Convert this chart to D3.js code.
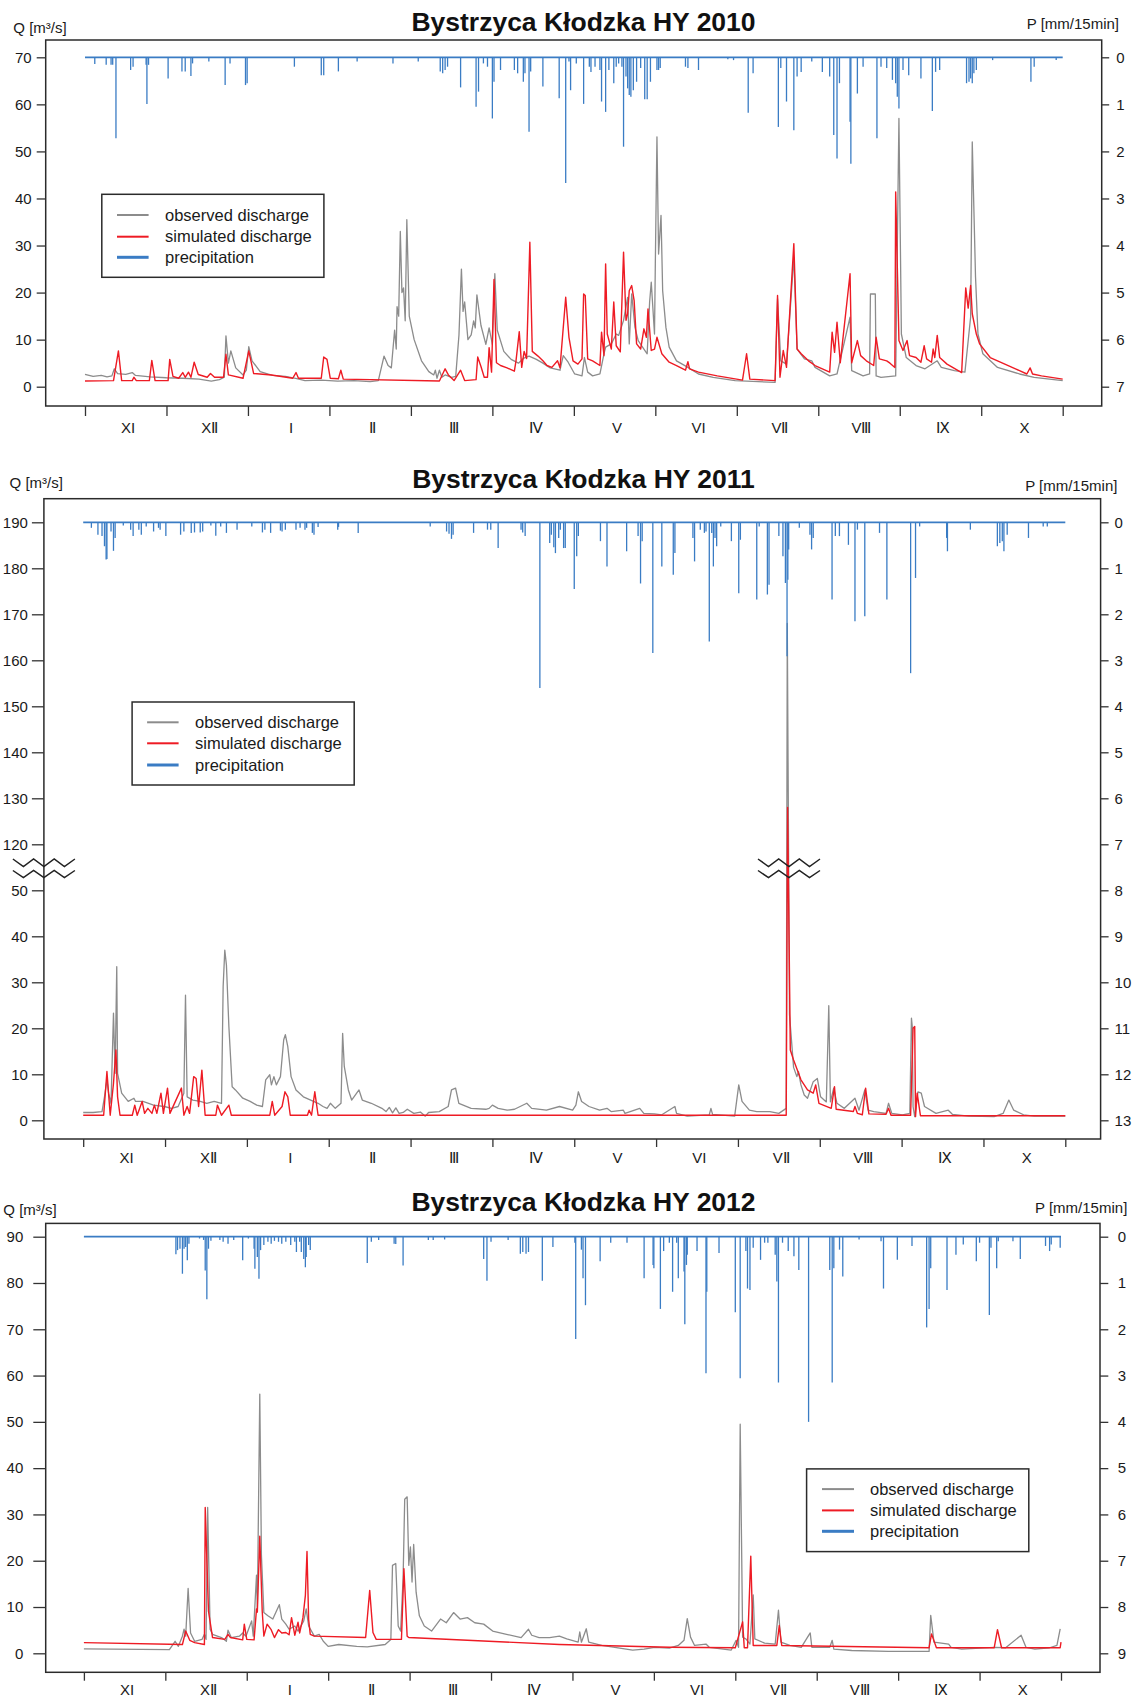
<!DOCTYPE html>
<meta charset="utf-8">
<style>

body {
  margin: 0;
  background: #fff;
}

svg {
  display: block;
  font-family: "Liberation Sans", Arial, Helvetica, sans-serif;
}

.tick text {
  font-size: 15px;
  fill: #1a1a1a;
}

.tick line {
  stroke: #333;
  stroke-width: 1.3px;
}

.domain {
  display: none;
}

</style>
<body>
<script src="https://d3js.org/d3.v7.min.js"></script>
<script>

// time is in months since 1 November (0..12), discharge in m3/s, rain in mm/15min
var months = ["XI", "X\u2161", "I", "\u2161", "\u2162", "\u2163", "V", "VI", "V\u2161", "V\u2162", "\u2168", "X"];

var obs2010 = [[0,2.6],[0.1,2.2],[0.2,2.4],[0.27,2.1],[0.33,2.3],[0.36,3.8],[0.4,2.8],[0.5,2.6],[0.58,3.0],[0.62,2.4],[0.8,2.1],[1.0,1.9],[1.2,1.8],[1.4,1.6],[1.55,1.2],[1.65,1.5],[1.71,2.0],[1.73,10.8],[1.76,5.0],[1.79,7.6],[1.85,4.0],[1.94,2.5],[1.98,3.5],[2.01,8.5],[2.05,5.5],[2.15,3.2],[2.3,2.4],[2.46,2.2],[2.6,1.7],[2.7,1.3],[2.9,1.4],[3.1,1.2],[3.3,1.3],[3.5,1.1],[3.6,1.3],[3.67,6.5],[3.72,4.5],[3.76,4.0],[3.8,12],[3.82,8],[3.83,17],[3.85,15],[3.87,33],[3.89,20],[3.91,21],[3.93,14],[3.95,35.5],[3.98,15],[4.04,10],[4.13,5.5],[4.22,3.2],[4.28,2.5],[4.3,3.5],[4.32,1.8],[4.35,3.5],[4.38,2.0],[4.42,2.5],[4.5,2.0],[4.55,2.2],[4.59,11],[4.62,25],[4.64,16],[4.66,18],[4.7,10],[4.74,11],[4.77,14],[4.79,12.5],[4.81,19.5],[4.86,13],[4.92,9],[4.96,12.5],[5.0,9],[5.03,24],[5.06,12],[5.14,7.5],[5.23,5.8],[5.32,5],[5.38,6],[5.45,6.5],[5.54,5.8],[5.62,5],[5.71,4],[5.83,3.5],[5.87,6.6],[5.93,5.2],[6.01,2.7],[6.1,2.3],[6.13,6.2],[6.17,3.1],[6.23,2.3],[6.32,2.7],[6.37,7.0],[6.39,8.4],[6.46,9.1],[6.52,11.2],[6.55,10.9],[6.61,14.1],[6.66,19.0],[6.68,9.1],[6.71,19.7],[6.75,12.6],[6.79,9.8],[6.86,8.0],[6.9,7.0],[6.93,18.0],[6.95,22.2],[6.99,11.2],[7.0,26.1],[7.02,53.1],[7.04,28.2],[7.07,36.4],[7.09,20.4],[7.13,12.6],[7.17,8.4],[7.26,5.5],[7.4,4.1],[7.53,2.7],[7.71,2.0],[7.98,1.3],[8.47,0.9],[8.5,18.7],[8.54,5.5],[8.61,4.8],[8.7,27.5],[8.74,8.0],[8.83,5.9],[8.92,5.5],[8.96,4.1],[9.14,2.3],[9.23,2.7],[9.39,14.8],[9.41,3.4],[9.55,2.3],[9.63,2.7],[9.64,19.7],[9.7,19.7],[9.71,2.3],[9.77,2.0],[9.95,2.3],[9.99,57.0],[10.02,11.2],[10.08,6.2],[10.2,4.5],[10.31,3.8],[10.46,5.5],[10.51,4.1],[10.67,3.4],[10.8,3.1],[10.87,14.8],[10.89,52.0],[10.93,23.3],[10.96,11.2],[11.02,7.0],[11.2,4.1],[11.47,2.7],[11.65,2.0],[12,1.3]];

var sim2010 = [[0,1.2],[0.35,1.3],[0.41,7.6],[0.45,1.3],[0.58,1.3],[0.6,2.0],[0.63,1.3],[0.79,1.3],[0.82,5.6],[0.86,1.3],[1.02,1.3],[1.04,5.8],[1.08,2.2],[1.15,1.8],[1.2,3.0],[1.23,2.0],[1.27,3.1],[1.3,2.0],[1.34,5.2],[1.39,2.6],[1.5,2.0],[1.54,2.8],[1.59,2.0],[1.7,2.0],[1.73,6.9],[1.76,2.5],[1.94,1.8],[2.01,7.6],[2.07,2.8],[2.29,2.5],[2.55,1.8],[2.59,3.0],[2.62,1.8],[2.9,1.8],[2.93,6.3],[2.97,5.8],[3.01,1.8],[3.11,1.7],[3.14,3.5],[3.17,1.6],[4.35,1.2],[4.42,3.8],[4.46,2.5],[4.53,1.3],[4.61,3.5],[4.66,1.3],[4.8,1.5],[4.82,6.3],[4.86,4.3],[4.9,2.0],[4.94,2.0],[4.96,8.3],[4.99,3.1],[5.02,22.8],[5.05,5.1],[5.1,4.5],[5.18,4.0],[5.27,3.3],[5.29,5.5],[5.33,11.7],[5.36,4.1],[5.39,7.5],[5.42,6.0],[5.46,30.7],[5.49,7.5],[5.56,6.5],[5.62,5.5],[5.67,4.5],[5.73,4.1],[5.8,5.5],[5.83,4.0],[5.9,19.0],[5.94,10.5],[5.99,5.5],[6.05,4.8],[6.1,5.9],[6.12,19.7],[6.14,19.4],[6.17,5.9],[6.23,5.5],[6.32,4.5],[6.34,11.6],[6.37,6.6],[6.39,26.1],[6.41,11.2],[6.46,8.0],[6.49,18.0],[6.52,8.7],[6.57,7.4],[6.61,28.6],[6.64,14.1],[6.66,15.5],[6.68,20.4],[6.71,21.5],[6.74,18.3],[6.77,9.1],[6.82,8.0],[6.86,12.3],[6.89,10.5],[6.91,16.5],[6.95,7.7],[6.99,8.0],[7.02,10.5],[7.08,7.0],[7.17,5.2],[7.26,4.5],[7.37,3.5],[7.4,5.3],[7.42,3.8],[7.53,3.1],[7.76,2.3],[8.07,1.4],[8.12,7.0],[8.16,1.6],[8.47,1.3],[8.5,19.4],[8.53,2.0],[8.57,7.7],[8.61,4.1],[8.7,30.4],[8.74,8.0],[8.79,7.0],[8.88,5.5],[8.96,4.5],[9.05,3.8],[9.14,3.1],[9.17,11.6],[9.2,7.3],[9.23,13.7],[9.27,5.1],[9.39,24.0],[9.41,5.1],[9.48,9.8],[9.52,6.6],[9.59,5.5],[9.68,4.5],[9.71,10.5],[9.75,5.9],[9.84,5.5],[9.88,5.0],[9.94,4.1],[9.95,41.4],[9.99,9.8],[10.04,7.7],[10.09,9.8],[10.12,6.6],[10.2,6.2],[10.26,5.2],[10.3,8.7],[10.33,5.9],[10.39,5.2],[10.41,8.0],[10.43,6.2],[10.46,10.9],[10.49,6.2],[10.58,4.8],[10.76,3.0],[10.81,21.0],[10.84,16.7],[10.87,21.5],[10.89,15.5],[10.94,11.2],[10.98,9.1],[11.11,6.2],[11.29,4.8],[11.47,3.4],[11.56,2.7],[11.6,4.0],[11.63,2.7],[11.74,2.3],[12,1.6]];

var rain2010 = [[0.12,0.14],[0.26,0.16],[0.32,0.16],[0.34,0.16],[0.38,1.72],[0.56,0.27],[0.59,0.2],[0.75,0.16],[0.76,0.99],[0.78,0.16],[1.02,0.45],[1.19,0.3],[1.23,0.3],[1.3,0.4],[1.32,0.13],[1.52,0.09],[1.72,0.59],[1.78,0.13],[1.97,0.59],[1.99,0.55],[2.57,0.2],[2.9,0.38],[2.93,0.38],[3.11,0.3],[3.34,0.09],[3.78,0.13],[4.09,0.09],[4.36,0.3],[4.39,0.34],[4.42,0.27],[4.45,0.2],[4.61,0.64],[4.8,1.05],[4.83,0.73],[4.89,0.13],[4.94,0.2],[5.0,1.3],[5.02,0.52],[5.1,0.27],[5.27,0.27],[5.31,0.34],[5.38,0.52],[5.4,0.34],[5.45,1.58],[5.47,0.3],[5.62,0.62],[5.82,0.87],[5.9,2.67],[5.94,0.09],[5.96,0.7],[6.03,0.13],[6.12,0.99],[6.19,0.2],[6.21,0.31],[6.26,0.2],[6.32,0.27],[6.34,0.94],[6.39,1.16],[6.43,0.27],[6.49,0.55],[6.52,0.2],[6.55,0.13],[6.59,0.2],[6.61,1.9],[6.64,0.41],[6.66,0.66],[6.68,0.8],[6.7,0.84],[6.73,0.7],[6.77,0.52],[6.82,0.23],[6.87,0.89],[6.9,0.89],[6.94,0.52],[7.02,0.27],[7.04,0.27],[7.06,0.23],[7.37,0.2],[7.4,0.23],[7.53,0.27],[7.89,0.04],[7.96,0.06],[8.14,1.18],[8.2,0.34],[8.51,1.48],[8.54,0.23],[8.61,0.94],[8.7,1.55],[8.74,0.41],[8.79,0.31],[8.92,0.09],[9.05,0.31],[9.14,0.41],[9.19,1.65],[9.23,2.15],[9.26,0.55],[9.39,1.37],[9.4,2.26],[9.48,0.77],[9.55,0.2],[9.72,1.72],[9.77,0.2],[9.84,0.23],[9.91,0.48],[9.95,0.55],[9.97,0.84],[9.99,1.09],[10.04,0.27],[10.11,0.38],[10.26,0.45],[10.4,1.14],[10.44,0.31],[10.49,0.27],[10.82,0.55],[10.85,0.52],[10.87,0.45],[10.89,0.55],[10.91,0.34],[10.94,0.27],[11.14,0.06],[11.61,0.52],[11.65,0.2],[11.92,0.06]];

var obs2011 = [[0,1.7],[0.12,1.7],[0.23,1.9],[0.26,5.1],[0.29,8.8],[0.31,5.9],[0.34,3.7],[0.37,23.3],[0.39,10.2],[0.41,33.4],[0.42,10.2],[0.47,5.9],[0.55,4.1],[0.62,4.8],[0.64,4.1],[0.73,4.1],[0.86,3.3],[0.99,3.0],[1.08,2.6],[1.16,3.0],[1.23,5.9],[1.25,27.2],[1.27,5.1],[1.34,4.4],[1.43,4.1],[1.51,3.7],[1.6,4.1],[1.69,3.7],[1.71,29.1],[1.73,37.0],[1.75,33.8],[1.78,20.4],[1.82,7.3],[1.86,6.6],[1.95,4.8],[2.04,4.1],[2.12,3.3],[2.19,3.0],[2.23,8.8],[2.28,9.9],[2.3,7.7],[2.33,9.5],[2.36,7.7],[2.41,9.5],[2.45,17.5],[2.47,18.6],[2.5,16.0],[2.54,9.5],[2.6,6.6],[2.69,5.1],[2.78,4.4],[2.87,3.7],[2.93,3.0],[2.98,2.6],[3.02,3.7],[3.08,2.6],[3.15,3.7],[3.17,18.9],[3.19,11.7],[3.24,6.6],[3.28,4.4],[3.37,6.6],[3.41,4.4],[3.52,3.7],[3.65,2.6],[3.7,1.9],[3.74,2.8],[3.78,1.6],[3.82,2.7],[3.86,1.5],[3.91,1.7],[3.96,2.4],[4.04,1.5],[4.12,1.8],[4.18,0.9],[4.22,1.7],[4.35,1.9],[4.46,3.0],[4.5,6.6],[4.55,7.0],[4.59,3.7],[4.74,2.6],[4.92,2.4],[4.96,2.6],[5.0,3.3],[5.07,2.6],[5.18,2.2],[5.27,2.4],[5.42,3.7],[5.48,2.6],[5.66,2.2],[5.82,3.0],[5.98,2.2],[6.02,3.3],[6.05,6.2],[6.09,4.1],[6.18,3.0],[6.31,2.2],[6.4,2.6],[6.45,1.9],[6.6,2.2],[6.62,1.5],[6.8,2.6],[6.85,1.5],[6.98,1.4],[7.07,1.2],[7.23,3.0],[7.25,1.5],[7.38,0.9],[7.65,1.2],[7.67,2.6],[7.69,1.3],[7.96,0.9],[8.01,7.7],[8.05,4.1],[8.14,2.2],[8.23,1.9],[8.39,1.9],[8.5,1.5],[8.59,2.6],[8.603,168],[8.63,23],[8.68,11.5],[8.72,9.5],[8.74,10.6],[8.77,7.7],[8.81,5.5],[8.85,4.8],[8.92,8.4],[8.97,9.1],[9.01,5.1],[9.08,4.0],[9.11,24.9],[9.13,4.0],[9.17,7.0],[9.21,3.7],[9.3,2.6],[9.43,4.8],[9.48,2.2],[9.55,6.6],[9.59,2.2],[9.66,1.9],[9.81,1.5],[9.84,3.7],[9.88,1.5],[10.01,1.2],[10.1,1.5],[10.12,22.2],[10.13,20.4],[10.14,3.0],[10.16,0.8],[10.2,6.2],[10.24,5.9],[10.28,3.0],[10.42,1.5],[10.57,2.2],[10.62,1.3],[10.82,0.9],[11.13,0.8],[11.24,1.5],[11.31,4.4],[11.37,2.2],[11.49,1.2],[11.62,0.9],[12,0.9]];

var sim2011 = [[0,1.1],[0.25,1.1],[0.29,10.6],[0.33,1.1],[0.37,8.0],[0.4,15.3],[0.42,5.1],[0.45,1.1],[0.6,1.1],[0.63,3.3],[0.66,1.1],[0.72,4.1],[0.75,1.5],[0.79,2.6],[0.84,1.5],[0.87,3.3],[0.9,1.5],[0.95,5.9],[0.98,1.5],[1.03,7.0],[1.06,1.5],[1.2,7.0],[1.23,1.1],[1.27,3.0],[1.3,1.5],[1.35,9.5],[1.38,9.1],[1.41,3.0],[1.45,10.9],[1.49,1.1],[1.62,1.1],[1.64,3.3],[1.69,1.1],[1.78,3.3],[1.81,1.1],[2.28,1.1],[2.31,4.1],[2.34,1.1],[2.43,3.0],[2.465,6.2],[2.5,5.1],[2.53,1.1],[2.74,1.1],[2.76,2.2],[2.79,1.1],[2.83,6.2],[2.87,1.1],[8.59,1.1],[8.607,128],[8.64,15.3],[8.68,13.1],[8.77,8.8],[8.85,6.6],[8.92,5.9],[8.95,7.7],[8.99,3.7],[9.14,2.6],[9.18,7.3],[9.2,2.4],[9.41,1.9],[9.43,3.0],[9.46,1.5],[9.52,1.2],[9.56,7.0],[9.6,1.4],[9.81,1.3],[9.84,2.6],[9.87,1.1],[10.11,1.1],[10.14,20.0],[10.16,20.4],[10.17,0.8],[10.19,5.9],[10.23,1.0],[12,1.0]];

var rain2011 = [[0.1,0.12],[0.18,0.27],[0.23,0.3],[0.26,0.52],[0.28,0.81],[0.29,0.8],[0.34,0.2],[0.37,0.62],[0.39,0.34],[0.49,0.07],[0.58,0.16],[0.61,0.3],[0.68,0.16],[0.71,0.27],[0.77,0.09],[0.86,0.2],[0.92,0.12],[0.94,0.16],[1.01,0.3],[1.19,0.27],[1.23,0.2],[1.32,0.23],[1.36,0.22],[1.43,0.22],[1.46,0.2],[1.56,0.07],[1.62,0.29],[1.68,0.09],[1.75,0.23],[1.88,0.16],[2.06,0.09],[2.19,0.22],[2.22,0.16],[2.29,0.23],[2.41,0.18],[2.43,0.2],[2.47,0.16],[2.6,0.16],[2.65,0.12],[2.71,0.16],[2.73,0.12],[2.8,0.23],[2.82,0.27],[2.87,0.1],[3.11,0.16],[3.12,0.1],[3.36,0.23],[4.24,0.09],[4.44,0.2],[4.47,0.25],[4.5,0.36],[4.52,0.27],[4.77,0.23],[4.94,0.16],[4.98,0.16],[5.07,0.56],[5.35,0.16],[5.37,0.22],[5.4,0.3],[5.58,3.6],[5.7,0.45],[5.72,0.27],[5.75,0.54],[5.77,0.67],[5.81,0.34],[5.83,0.16],[5.87,0.56],[5.89,0.56],[6.0,1.45],[6.03,0.74],[6.05,0.3],[6.32,0.41],[6.4,0.96],[6.64,0.63],[6.78,0.3],[6.81,1.33],[6.83,0.41],[6.96,2.84],[7.07,0.96],[7.21,1.14],[7.23,0.67],[7.45,0.34],[7.47,0.85],[7.54,0.16],[7.59,0.23],[7.61,0.2],[7.65,2.59],[7.68,0.23],[7.7,0.96],[7.72,0.34],[7.74,0.52],[7.79,0.09],[7.92,0.41],[8.01,1.54],[8.03,0.38],[8.23,1.68],[8.26,0.09],[8.36,1.57],[8.38,1.36],[8.5,0.3],[8.55,0.74],[8.58,1.32],[8.6,2.91],[8.61,1.25],[8.62,0.59],[8.75,0.12],[8.88,0.27],[8.9,0.59],[8.92,0.34],[9.15,1.68],[9.19,0.3],[9.24,0.3],[9.35,0.49],[9.43,2.15],[9.46,0.16],[9.55,2.04],[9.73,0.23],[9.82,1.68],[10.11,3.28],[10.17,1.21],[10.22,0.09],[10.55,0.34],[10.56,0.63],[10.84,0.16],[11.17,0.52],[11.2,0.45],[11.23,0.41],[11.25,0.63],[11.29,0.27],[11.55,0.34],[11.73,0.09],[11.78,0.09]];

var obs2012 = [[0,0.95],[1.05,0.8],[1.12,2.6],[1.16,1.5],[1.21,3.7],[1.23,5.2],[1.25,3.7],[1.28,14.0],[1.31,4.4],[1.36,2.6],[1.45,3.0],[1.48,4.1],[1.5,3.0],[1.52,31.5],[1.55,5.2],[1.58,4.1],[1.69,3.4],[1.75,2.6],[1.77,5.0],[1.81,3.4],[1.91,3.7],[1.95,4.4],[1.99,3.7],[2.06,7.0],[2.08,3.7],[2.12,16.9],[2.13,9.6],[2.16,56],[2.18,21.3],[2.21,8.8],[2.26,8.1],[2.32,7.4],[2.4,10.5],[2.43,7.4],[2.48,6.3],[2.52,5.2],[2.59,5.9],[2.63,4.8],[2.7,7.0],[2.73,9.6],[2.76,5.9],[2.83,3.7],[2.89,4.1],[2.94,2.6],[3.0,1.5],[3.13,1.9],[3.35,1.5],[3.48,1.4],[3.7,1.9],[3.77,3.0],[3.79,19.0],[3.83,19.4],[3.86,5.9],[3.89,4.8],[3.92,16.1],[3.94,33.3],[3.97,33.8],[3.99,19.0],[4.01,23.0],[4.03,15.4],[4.05,23.5],[4.08,13.2],[4.12,8.1],[4.18,5.9],[4.27,4.8],[4.38,7.4],[4.45,6.6],[4.54,8.8],[4.62,7.4],[4.71,7.7],[4.8,6.6],[4.91,6.3],[5.02,4.8],[5.19,4.1],[5.37,3.4],[5.46,5.2],[5.5,3.9],[5.59,3.4],[5.72,3.4],[5.84,3.7],[5.93,3.1],[6.07,2.4],[6.09,4.6],[6.11,2.4],[6.17,5.3],[6.2,2.4],[6.36,1.7],[6.52,1.3],[6.74,0.7],[6.88,0.9],[7.01,1.3],[7.19,1.1],[7.3,1.7],[7.37,2.8],[7.41,7.5],[7.45,3.5],[7.5,1.7],[7.64,2.0],[7.68,1.3],[7.95,0.7],[8.01,2.8],[8.04,1.3],[8.06,49.5],[8.09,3.5],[8.13,3.1],[8.18,2.0],[8.22,12.6],[8.24,3.1],[8.36,2.2],[8.49,2.0],[8.53,9.3],[8.56,2.4],[8.67,1.7],[8.81,1.3],[8.92,4.4],[8.94,1.3],[9.16,1.3],[9.19,2.8],[9.21,0.9],[9.43,0.6],[9.88,0.4],[10.38,0.4],[10.4,8.2],[10.44,2.4],[10.62,2.0],[10.65,1.3],[10.78,0.9],[11.18,1.3],[11.32,1.2],[11.51,3.9],[11.57,1.3],[11.68,0.9],[11.86,1.2],[11.95,1.7],[11.99,5.3]];

var sim2012 = [[0,2.3],[1.21,1.9],[1.25,4.8],[1.3,2.8],[1.36,2.3],[1.48,1.9],[1.49,31.5],[1.53,9.1],[1.58,3.4],[1.73,3.0],[1.77,4.1],[1.8,3.4],[1.95,2.9],[1.97,6.3],[2.0,3.0],[2.09,2.9],[2.12,9.6],[2.13,8.9],[2.16,25.3],[2.19,9.1],[2.21,3.7],[2.25,6.3],[2.3,5.1],[2.34,3.4],[2.39,5.1],[2.43,4.4],[2.48,4.5],[2.52,4.0],[2.55,7.7],[2.59,3.9],[2.63,6.7],[2.65,4.4],[2.69,7.7],[2.72,12.5],[2.74,22.0],[2.76,7.3],[2.78,4.1],[2.83,3.7],[3.46,3.4],[3.51,13.6],[3.55,4.5],[3.59,3.0],[3.9,3.0],[3.93,18.3],[3.97,3.7],[3.99,3.4],[5.84,1.9],[7.19,1.3],[8.0,1.2],[8.09,6.8],[8.11,1.2],[8.15,1.2],[8.19,21.0],[8.22,1.7],[8.51,1.7],[8.54,6.0],[8.57,1.7],[10.38,1.2],[10.41,4.2],[10.47,1.2],[11.18,1.2],[11.22,5.1],[11.27,1.2],[11.99,1.2],[12,2.4]];

var rain2012 = [[1.13,0.38],[1.15,0.29],[1.18,0.26],[1.21,0.8],[1.23,0.26],[1.25,0.22],[1.27,0.51],[1.29,0.15],[1.42,0.04],[1.47,0.07],[1.49,0.73],[1.51,1.35],[1.53,0.26],[1.56,0.09],[1.67,0.07],[1.71,0.11],[1.77,0.15],[1.84,0.07],[1.95,0.51],[2.02,0.04],[2.09,0.26],[2.1,0.69],[2.13,0.44],[2.15,0.91],[2.17,0.29],[2.21,0.18],[2.26,0.11],[2.3,0.15],[2.34,0.09],[2.39,0.11],[2.43,0.15],[2.48,0.11],[2.54,0.18],[2.59,0.11],[2.61,0.33],[2.65,0.11],[2.67,0.33],[2.7,0.48],[2.72,0.66],[2.73,0.44],[2.76,0.18],[2.78,0.29],[3.48,0.57],[3.53,0.11],[3.62,0.07],[3.81,0.15],[3.83,0.16],[3.92,0.62],[4.23,0.07],[4.29,0.07],[4.43,0.06],[4.91,0.48],[4.95,0.95],[5.0,0.11],[5.21,0.07],[5.36,0.37],[5.39,0.33],[5.43,0.37],[5.46,0.33],[5.63,0.95],[5.76,0.22],[6.03,0.13],[6.04,2.21],[6.11,0.28],[6.13,0.9],[6.16,1.48],[6.34,0.53],[6.47,0.13],[6.67,0.13],[6.88,0.9],[6.99,0.61],[7.0,0.68],[7.08,1.56],[7.12,0.31],[7.19,0.13],[7.23,1.19],[7.28,0.13],[7.3,0.9],[7.37,0.75],[7.38,1.89],[7.4,0.61],[7.41,0.39],[7.53,0.31],[7.64,2.95],[7.65,1.19],[7.8,0.35],[8.0,1.63],[8.06,3.06],[8.13,0.31],[8.15,1.12],[8.18,1.15],[8.22,0.24],[8.31,0.5],[8.36,0.13],[8.4,0.13],[8.49,0.39],[8.51,0.97],[8.53,3.15],[8.58,0.13],[8.65,0.31],[8.72,0.42],[8.78,0.72],[8.9,4.0],[9.16,0.72],[9.19,3.15],[9.21,0.68],[9.28,0.28],[9.32,0.86],[9.52,0.06],[9.79,0.1],[9.82,1.12],[9.99,0.5],[10.17,0.2],[10.35,1.96],[10.38,1.56],[10.4,0.68],[10.6,1.15],[10.71,0.39],[10.8,0.17],[10.96,0.53],[11.0,0.13],[11.12,1.69],[11.14,0.24],[11.21,0.68],[11.23,0.1],[11.41,0.1],[11.5,0.48],[11.81,0.2],[11.86,0.31],[11.88,0.17],[11.99,0.24]];

var qTicks2010 = [0, 10, 20, 30, 40, 50, 60, 70];
var qTicks2011 = [0, 10, 20, 30, 40, 50, 120, 130, 140, 150, 160, 170, 180, 190];
var qTicks2012 = [0, 10, 20, 30, 40, 50, 60, 70, 80, 90];

var legendNames = ["observed discharge", "simulated discharge", "precipitation"];

var colObs = "#8c8c8c", colSim = "#ee1b24", colRain = "#3a7cc4", colInk = "#2b2b2b";

// page layout of the three panels
var panels = [
  {title: "Bystrzyca K\u0142odzka HY 2010", obs: obs2010, sim: sim2010, rain: rain2010, qTicks: qTicks2010,
   box: [45.7, 40, 1101.7, 406], xr: [85, 1062.7], qDom: [0, 70], qRng: [386.7, 57.3], pMax: 7,
   titleY: 31, qLab: [13.3, 32.5], pLab: [1119, 29], leftTick: 9, leftPad: 5, rightTick: 7.5, rightPad: 7,
   botTick: 10, monthY: 433, legend: {x0: 101.8, y0: 194.3, x1: 323.9, y1: 277.3, ys: [215, 236.7, 257.3], s0: 117, s1: 148.6, tx: 165}},
  {title: "Bystrzyca K\u0142odzka HY 2011", obs: obs2011, sim: sim2011, rain: rain2011, qTicks: qTicks2011,
   box: [43.9, 498.7, 1100.6, 1139], xr: [83.2, 1065.3], qDom: [0, 55, 115, 190], qRng: [1120.3, 867.3, 867.3, 522.3], pMax: 13,
   titleY: 488.3, qLab: [9.6, 487.7], pLab: [1117.4, 490.7], leftTick: 12, leftPad: 4, rightTick: 8, rightPad: 6,
   botTick: 8, monthY: 1162.5, breaks: [43.9, 789], legend: {x0: 132.1, y0: 702, x1: 354.2, y1: 785, ys: [722.3, 743.3, 765], s0: 147.1, s1: 178.6, tx: 195}},
  {title: "Bystrzyca K\u0142odzka HY 2012", obs: obs2012, sim: sim2012, rain: rain2012, qTicks: qTicks2012,
   box: [45.7, 1223.4, 1100, 1672.3], xr: [83.9, 1061], qDom: [0, 90], qRng: [1653.3, 1236.7], pMax: 9,
   titleY: 1211.2, qLab: [3.3, 1215], pLab: [1127.3, 1213.2], leftTick: 12.4, leftPad: 10, rightTick: 8.3, rightPad: 9.5,
   botTick: 8.4, monthY: 1695, legend: {x0: 806.6, y0: 1468.9, x1: 1028.8, y1: 1551.6, ys: [1489.1, 1510.4, 1531.3], s0: 822, s1: 854, tx: 870}}
];

var svg = d3.select("body").append("svg")
    .attr("width", 1132)
    .attr("height", 1700);

panels.forEach(function(p) {

  var g = svg.append("g");

  var x = d3.scaleLinear().domain([0, 12]).range(p.xr);
  var q = d3.scaleLinear().domain(p.qDom).range(p.qRng);
  var qTop = p.qRng[p.qRng.length - 1], qBottom = p.qRng[0];
  var pr = d3.scaleLinear().domain([0, p.pMax]).range([qTop, qBottom]);

  var line = d3.line()
      .x(d => x(d[0]))
      .y(d => q(d[1]));

  g.append("path")
      .datum(p.obs)
      .attr("d", line)
      .attr("fill", "none")
      .attr("stroke", colObs)
      .attr("stroke-width", 1.3)
      .attr("stroke-linejoin", "round");

  g.append("path")
      .datum(p.sim)
      .attr("d", line)
      .attr("fill", "none")
      .attr("stroke", colSim)
      .attr("stroke-width", 1.4)
      .attr("stroke-linejoin", "round");

  // precipitation hangs from the top axis
  g.selectAll("line.rain")
    .data(p.rain)
    .enter()
    .append("line")
      .attr("class", "rain")
      .attr("x1", d => x(d[0]))
      .attr("x2", d => x(d[0]))
      .attr("y1", pr(0))
      .attr("y2", d => pr(d[1]))
      .attr("stroke", colRain)
      .attr("stroke-width", 1.3);

  g.append("line")
      .attr("x1", x(0))
      .attr("x2", x(12))
      .attr("y1", pr(0))
      .attr("y2", pr(0))
      .attr("stroke", colRain)
      .attr("stroke-width", 1.8);

  g.append("rect")
      .attr("x", p.box[0])
      .attr("y", p.box[1])
      .attr("width", p.box[2] - p.box[0])
      .attr("height", p.box[3] - p.box[1])
      .attr("fill", "none")
      .attr("stroke", colInk)
      .attr("stroke-width", 1.5);

  g.append("g")
      .attr("transform", `translate(${p.box[0]}, 0)`)
      .call(d3.axisLeft(q).tickValues(p.qTicks).tickFormat(d3.format("d")).tickSize(p.leftTick).tickPadding(p.leftPad));

  g.append("g")
      .attr("transform", `translate(${p.box[2]}, 0)`)
      .call(d3.axisRight(pr).tickValues(d3.range(0, p.pMax + 1)).tickFormat(d3.format("d")).tickSize(p.rightTick).tickPadding(p.rightPad));

  g.append("g")
      .attr("transform", `translate(0, ${p.box[3]})`)
      .call(d3.axisBottom(x).tickValues(d3.range(0, 13)).tickSize(p.botTick).tickFormat(""));

  g.selectAll("text.month")
    .data(months)
    .enter()
    .append("text")
      .attr("class", "month")
      .attr("x", (d, i) => x(i + 0.53))
      .attr("y", p.monthY)
      .attr("text-anchor", "middle")
      .attr("font-size", 15)
      .attr("fill", "#1a1a1a")
      .text(d => d);

  g.append("text")
      .attr("x", 583.5)
      .attr("y", p.titleY)
      .attr("text-anchor", "middle")
      .attr("font-size", 26.5)
      .attr("font-weight", "bold")
      .attr("fill", "#111")
      .text(p.title);

  g.append("text")
      .attr("x", p.qLab[0])
      .attr("y", p.qLab[1])
      .attr("font-size", 15)
      .attr("fill", "#1a1a1a")
      .text("Q [m\u00b3/s]");

  g.append("text")
      .attr("x", p.pLab[0])
      .attr("y", p.pLab[1])
      .attr("text-anchor", "end")
      .attr("font-size", 15)
      .attr("fill", "#1a1a1a")
      .text("P [mm/15min]");

  // broken axis marks
  if (p.breaks) {
    var zig = d3.line();
    p.breaks.forEach(function(cx) {
      [[859, 866.5], [870.5, 877.7]].forEach(function(yy) {
        var pts = [-31, -20.5, -10.3, 0, 10.3, 20.5, 31].map((dx, i) => [cx + dx, i % 2 ? yy[1] : yy[0]]);
        g.append("path")
            .attr("d", zig(pts))
            .attr("fill", "none")
            .attr("stroke", "#222")
            .attr("stroke-width", 1.5);
      });
    });
  }

  var L = p.legend;
  g.append("rect")
      .attr("x", L.x0)
      .attr("y", L.y0)
      .attr("width", L.x1 - L.x0)
      .attr("height", L.y1 - L.y0)
      .attr("fill", "#fff")
      .attr("stroke", colInk)
      .attr("stroke-width", 1.5);

  var lcol = [colObs, colSim, colRain], lw = [2, 2, 3];
  legendNames.forEach(function(name, i) {
    g.append("line")
        .attr("x1", L.s0)
        .attr("x2", L.s1)
        .attr("y1", L.ys[i])
        .attr("y2", L.ys[i])
        .attr("stroke", lcol[i])
        .attr("stroke-width", lw[i]);
    g.append("text")
        .attr("x", L.tx)
        .attr("y", L.ys[i])
        .attr("dy", "0.35em")
        .attr("font-size", 16.5)
        .attr("fill", "#1a1a1a")
        .text(name);
  });
});

</script>
